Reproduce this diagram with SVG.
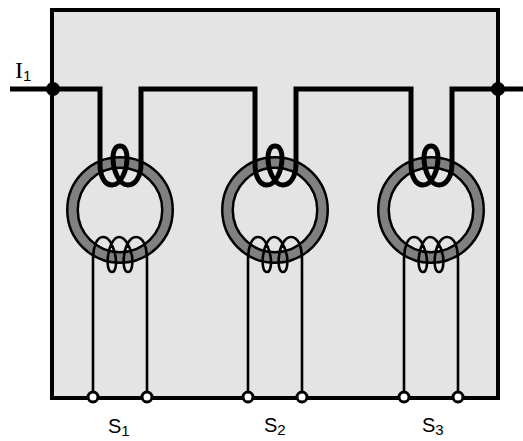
<svg xmlns="http://www.w3.org/2000/svg" width="523" height="441" viewBox="0 0 523 441">
<style>
.ro{fill:none;stroke:#000;stroke-width:13;}
.rb{fill:none;stroke:#808080;stroke-width:8;}
.w{fill:none;stroke:#000;stroke-width:5;stroke-linejoin:miter;}
.pc{fill:none;stroke:#000;stroke-width:5;}
.sc{fill:none;stroke:#000;stroke-width:2.6;}
.t{fill:#fff;stroke:#000;stroke-width:3;}
.s{font-family:"Liberation Sans",Arial,sans-serif;font-size:20px;fill:#000;}
.n{font-size:15px;font-family:"Liberation Sans",Arial,sans-serif;}
.i{font-family:"Liberation Serif","Times New Roman",serif;font-size:24px;fill:#000;}
</style>
<defs>
<g id="tf">
<circle class="ro" r="47.5"/>
<circle class="rb" r="47.5"/>
<path class="pc" d="M-20 -60 L-20 -46 C-20 -33 -15 -25 -8 -25 C1 -25 7 -40 7 -52 C7 -60 4 -64 0 -64 C-4 -64 -7 -60 -7 -52 C-7 -40 -1 -25 8 -25 C15 -25 21 -33 21 -46 L21 -60"/>
<path class="sc" d="M-27 186 L-27 50 C-27 36 -23 27 -17 27 C-11 27 -7 36 -5 44 C-3 52 -4 62 -8 62 C-12 62 -13 54 -12 46 C-11 36 -6 27 -1 27 C5 27 10 36 12 46 C13 54 12 62 8 62 C4 62 3 54 4 46 C5 36 10 27 16 27 C23 27 27 36 27 50 L27 186"/>
</g>
</defs>
<rect id="frame" x="52" y="10" width="446" height="388" fill="#e4e4e4" stroke="#000" stroke-width="4"/>
<g id="transformer-1"><use href="#tf" x="120" y="210"/></g>
<g id="transformer-2"><use href="#tf" x="275" y="210"/></g>
<g id="transformer-3"><use href="#tf" x="431" y="210"/></g>
<g id="connectors">
<path class="w" d="M10 89 H100 V150 M141 150 V89 H255 V150 M296 150 V89 H411 V150 M452 150 V89 H523"/>
</g>
<g id="junction-left"><circle cx="53" cy="89" r="7"/></g>
<g id="junction-right"><circle cx="498" cy="89" r="7"/></g>
<g id="terminals">
<circle class="t" cx="93" cy="397" r="5"/><circle class="t" cx="147" cy="397" r="5"/>
<circle class="t" cx="248" cy="397" r="5"/><circle class="t" cx="302" cy="397" r="5"/>
<circle class="t" cx="404" cy="397" r="5"/><circle class="t" cx="458" cy="397" r="5"/>
</g>
<g id="labels">
<text class="i" x="15" y="78">I<tspan class="n" dy="3">1</tspan></text>
<text class="s" x="108" y="433">S<tspan class="n" dy="3">1</tspan></text>
<text class="s" x="264" y="432">S<tspan class="n" dy="3">2</tspan></text>
<text class="s" x="422" y="432">S<tspan class="n" dy="3">3</tspan></text>
</g>
</svg>
